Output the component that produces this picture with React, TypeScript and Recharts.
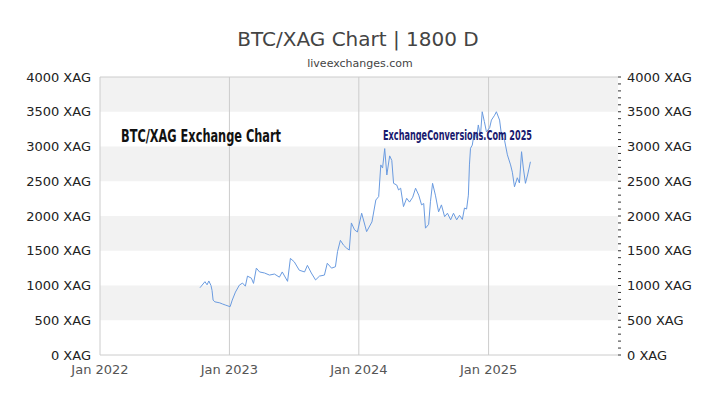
import React from "react"
import { LineChart, Line, XAxis, YAxis, ReferenceArea, ReferenceLine } from "recharts"

// BTC priced in silver ounces
const dates = [
  "2022-10-10", "2022-10-24", "2022-10-30", "2022-11-04", "2022-11-10", "2022-11-13", "2022-11-16", "2022-11-21",
  "2022-12-05", "2022-12-12", "2022-12-20", "2023-01-03", "2023-01-09", "2023-01-18", "2023-01-29", "2023-02-07",
  "2023-02-15", "2023-02-21", "2023-03-04", "2023-03-10", "2023-03-18", "2023-03-27", "2023-04-10", "2023-04-24",
  "2023-05-08", "2023-05-22", "2023-05-30", "2023-06-14", "2023-06-22", "2023-07-03", "2023-07-17", "2023-08-01",
  "2023-08-09", "2023-08-20", "2023-09-01", "2023-09-12", "2023-09-26", "2023-10-04", "2023-10-16", "2023-10-27",
  "2023-11-02", "2023-11-10", "2023-11-19", "2023-11-27", "2023-12-05", "2023-12-11", "2023-12-20", "2023-12-28",
  "2024-01-09", "2024-01-23", "2024-02-07", "2024-02-18", "2024-02-26", "2024-03-03", "2024-03-08", "2024-03-14",
  "2024-03-20", "2024-03-28", "2024-04-03", "2024-04-08", "2024-04-17", "2024-04-22", "2024-04-28", "2024-05-06",
  "2024-05-15", "2024-05-23", "2024-06-01", "2024-06-09", "2024-06-18", "2024-06-26", "2024-07-02", "2024-07-07",
  "2024-07-16", "2024-07-21", "2024-07-27", "2024-08-04", "2024-08-13", "2024-08-21", "2024-08-30", "2024-09-07",
  "2024-09-16", "2024-09-24", "2024-10-03", "2024-10-11", "2024-10-19", "2024-10-25", "2024-10-31", "2024-11-05",
  "2024-11-08", "2024-11-11", "2024-11-16", "2024-11-22", "2024-11-28", "2024-12-03", "2024-12-09", "2024-12-14",
  "2024-12-20", "2024-12-26", "2025-01-04", "2025-01-09", "2025-01-18", "2025-01-23", "2025-02-01", "2025-02-07",
  "2025-02-15", "2025-02-23", "2025-03-04", "2025-03-09", "2025-03-15", "2025-03-23", "2025-03-29", "2025-04-04",
  "2025-04-09", "2025-04-15", "2025-04-21", "2025-04-29",
]
const rates = [
  968, 1055, 1010, 1065, 1000, 930, 790, 765,
  750, 735, 720, 695, 790, 905, 1005, 1035,
  990, 1135, 1105, 1030, 1250, 1195, 1180, 1150,
  1165, 1120, 1195, 1060, 1390, 1340, 1220, 1195,
  1290, 1180, 1080, 1135, 1150, 1320, 1250, 1270,
  1490, 1650, 1580, 1540, 1510, 1900, 1800, 1770,
  2040, 1775, 1915, 2230, 2280, 2735, 2690, 2970,
  2590, 2865, 2800, 2470, 2445, 2375, 2400, 2135,
  2255, 2200, 2270, 2400, 2300, 2160, 2180, 1825,
  1880, 2205, 2470, 2300, 2060, 2160, 1990, 2040,
  1945, 2040, 1945, 2010, 1950, 2115, 2100, 2300,
  2735, 2975, 3020, 3210, 3120, 3310, 3150, 3500,
  3360, 3210, 3270, 3380, 3450, 3500, 3380, 3140,
  3090, 2880, 2735, 2630, 2420, 2550, 2475, 2925,
  2690, 2470, 2590, 2780,
]

const xTicks = ["2022-01-01", "2023-01-01", "2024-01-01", "2025-01-01"]
const xEnd = "2026-01-01"
const yTicks = [0, 500, 1000, 1500, 2000, 2500, 3000, 3500, 4000]
const yMinorTicks = Array.from({ length: 41 }, (_, i) => i * 100)
const bands = [[500, 1000], [1500, 2000], [2500, 3000], [3500, 4000]]

const data = dates.map((d, i) => ({ t: Date.parse(d), v: rates[i] }))
const tickTimes = xTicks.map(d => Date.parse(d))

const font = "DejaVu Sans, sans-serif"
const narrow = "Liberation Sans Narrow, DejaVu Sans Condensed, sans-serif"

const RightTick = (props: any) => {
  const { x, y, payload } = props
  if (payload.value % 500 !== 0) return <g />
  return (
    <text x={x} y={y} dy="0.355em" textAnchor="start" fill="#222" fontSize={13} fontFamily={font}>
      {`${payload.value} XAG`}
    </text>
  )
}

export default function App() {
  return (
    <div style={{ position: "absolute", left: 0, top: 0, width: 720, height: 405, background: "#fff" }}>
      <LineChart width={720} height={405} data={data} margin={{ top: 77, right: 0, bottom: 0, left: 0 }}>
        <XAxis
          dataKey="t"
          type="number"
          domain={[tickTimes[0], Date.parse(xEnd)]}
          ticks={tickTimes}
          tickFormatter={v => `Jan ${new Date(v).getUTCFullYear()}`}
          axisLine={{ stroke: "#ccc" }}
          tickLine={false}
          tickSize={0}
          tickMargin={10}
          height={50}
          tick={{ fill: "#555", fontSize: 13, fontFamily: font }}
          allowDataOverflow
        />
        <YAxis
          yAxisId="left"
          domain={[0, 4000]}
          ticks={yTicks}
          tickFormatter={v => `${v} XAG`}
          axisLine={{ stroke: "#ccc" }}
          tickLine={false}
          tickSize={0}
          tickMargin={9}
          width={100}
          tick={{ fill: "#222", fontSize: 13, fontFamily: font }}
        />
        <YAxis
          yAxisId="right"
          orientation="right"
          domain={[0, 4000]}
          ticks={yMinorTicks}
          interval={0}
          tick={<RightTick />}
          axisLine={false}
          tickLine={{ stroke: "#333" }}
          tickSize={3}
          tickMargin={6}
          width={102}
        />
        {bands.map(([a, b]) => (
          <ReferenceArea key={a} yAxisId="left" y1={a} y2={b} fill="#f2f2f2" fillOpacity={1} stroke="none" />
        ))}
        {tickTimes.slice(1).map(t => (
          <ReferenceLine key={t} yAxisId="left" x={t} stroke="#ccc" />
        ))}
        <ReferenceLine yAxisId="left" y={4000} stroke="#ccc" />
        <Line
          yAxisId="right"
          type="linear"
          dataKey="v"
          stroke="none"
          strokeOpacity={0}
          dot={false}
          activeDot={false}
          legendType="none"
          isAnimationActive={false}
        />
        <Line
          yAxisId="left"
          type="linear"
          dataKey="v"
          stroke="#6a9be0"
          strokeWidth={1}
          dot={false}
          isAnimationActive={false}
        />
      </LineChart>
      <svg width={720} height={405} style={{ position: "absolute", left: 0, top: 0, pointerEvents: "none" }}>
        <text x={358} y={46} textAnchor="middle" fill="#444" fontSize={20} fontFamily={font}>
          BTC/XAG Chart | 1800 D
        </text>
        <text x={360} y={67} textAnchor="middle" fill="#444" fontSize={11} fontFamily={font}>
          liveexchanges.com
        </text>
        <text
          x={121}
          y={142}
          fill="#111"
          fontSize={18}
          fontWeight="bold"
          fontFamily={narrow}
          textLength={160}
          lengthAdjust="spacingAndGlyphs"
        >
          BTC/XAG Exchange Chart
        </text>
        <text
          x={383}
          y={140}
          fill="#1a1a6e"
          fontSize={14}
          fontWeight="bold"
          fontFamily={narrow}
          textLength={149}
          lengthAdjust="spacingAndGlyphs"
        >
          ExchangeConversions.Com 2025
        </text>
      </svg>
    </div>
  )
}
